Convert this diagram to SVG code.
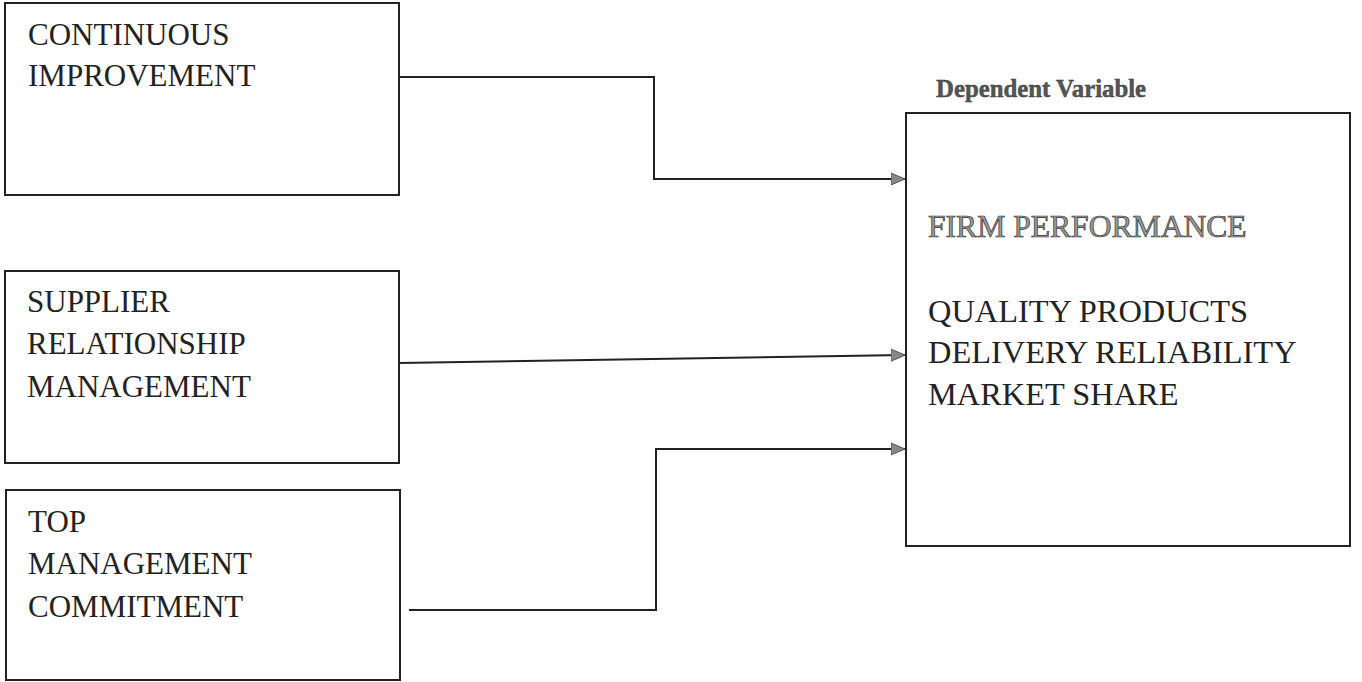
<svg xmlns="http://www.w3.org/2000/svg" width="1362" height="682" viewBox="0 0 1362 682">
<style>
.box{fill:#fff;stroke:#222;stroke-width:2}
.t{font-family:"Liberation Serif","Times New Roman",serif;font-size:31px;fill:#222}
.t2{font-family:"Liberation Serif","Times New Roman",serif;font-size:32.4px;fill:#222}
.hdr{font-family:"Liberation Serif","Times New Roman",serif;font-size:24.8px;font-weight:bold;fill:#555;stroke:#333;stroke-width:0.4}
.fp{font-family:"Liberation Serif","Times New Roman",serif;font-size:31.6px;fill:#999;stroke:#333;stroke-width:0.7}
.c{fill:none;stroke:#222;stroke-width:2}
</style>
<defs>
<marker id="arr" markerUnits="userSpaceOnUse" markerWidth="16" markerHeight="14" refX="14" refY="7" orient="auto">
<path d="M0,1 L14,7 L0,13 Z" fill="#888" stroke="#555" stroke-width="1"/>
</marker>
</defs>
<rect width="1362" height="682" fill="#fff"/>
<g id="n1">
<rect class="box" x="5" y="3" width="394" height="192"/>
<text class="t" x="28" y="45">CONTINUOUS</text>
<text class="t" x="28" y="86">IMPROVEMENT</text>
</g>
<g id="n2">
<rect class="box" x="5" y="271" width="394" height="192"/>
<text class="t" x="27" y="312">SUPPLIER</text>
<text class="t" x="27" y="354">RELATIONSHIP</text>
<text class="t" x="27" y="397">MANAGEMENT</text>
</g>
<g id="n3">
<rect class="box" x="6" y="490" width="394" height="190"/>
<text class="t" x="28" y="532">TOP</text>
<text class="t" x="28" y="574">MANAGEMENT</text>
<text class="t" x="28" y="617">COMMITMENT</text>
</g>
<g id="n4">
<text class="hdr" x="936" y="97">Dependent Variable</text>
<rect class="box" x="906" y="113" width="444" height="433"/>
<text class="fp" x="928" y="237">FIRM PERFORMANCE</text>
<text class="t2" x="928" y="322">QUALITY PRODUCTS</text>
<text class="t2" x="928" y="363">DELIVERY RELIABILITY</text>
<text class="t2" x="928" y="405">MARKET SHARE</text>
</g>
<g id="connectors">
<path class="c" d="M399,77 H654 V179 H905" marker-end="url(#arr)"/>
<path class="c" d="M399,363 L905,355" marker-end="url(#arr)"/>
<path class="c" d="M409,610 H656 V449 H905" marker-end="url(#arr)"/>
</g>
</svg>
